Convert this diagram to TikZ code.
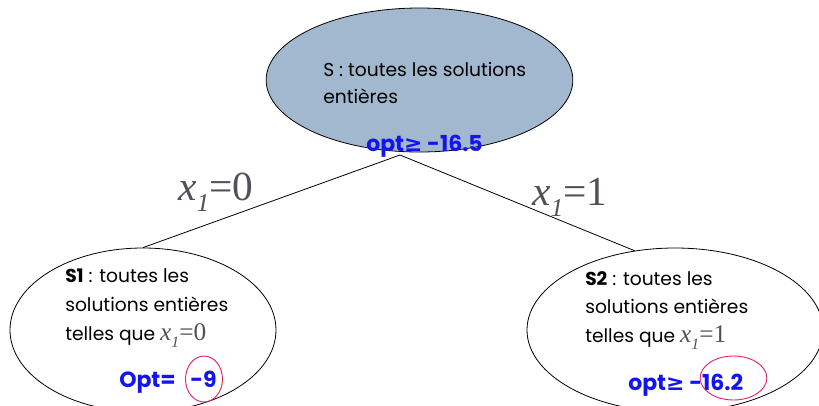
\documentclass[tikz,border=0pt]{standalone}
\usepackage{fontspec}
\setmainfont{Poppins}
\newfontfamily\symfont{DejaVu Sans}
\newfontfamily\mathserif{Liberation Serif}
\usetikzlibrary{shapes.geometric}
\definecolor{nodeblue}{RGB}{162,184,206}
\definecolor{optblue}{RGB}{20,20,240}
\definecolor{labgray}{RGB}{80,80,90}
\definecolor{circpink}{RGB}{225,40,105}
\newcommand{\xone}[1]{{\mathserif\itshape x\raisebox{-0.28em}{\scalebox{0.62}{1}}\upshape=#1}}
\begin{document}
\begin{tikzpicture}[x=0.75pt,y=-0.75pt,
  sol/.style={ellipse,draw=black,line width=0.6pt,inner sep=0pt},
  txt/.style={anchor=base west,inner sep=0pt,font=\fontsize{14}{16}\selectfont},
  opt/.style={anchor=base west,inner sep=0pt,text=optblue,font=\fontsize{16.5}{18}\selectfont\bfseries},
  branch/.style={anchor=base west,inner sep=0pt,text=labgray,font=\fontsize{31}{34}\selectfont},
  ring/.style={ellipse,draw=circpink,line width=0.7pt,inner sep=0pt},
  edge/.style={draw=black,line width=0.6pt}]
\clip (0,0) rectangle (819,405);
% nodes
\node[sol,fill=nodeblue,minimum width=230pt,minimum height=108pt] (S) at (419.5,80) {};
\node[sol,minimum width=199.5pt,minimum height=123pt] (S1) at (143,330) {};
\node[sol,minimum width=222pt,minimum height=123pt] (S2) at (675,330) {};
% connectors
\coordinate (apex) at (400,155);
\draw[edge] (apex) -- (S1.north);
\draw[edge] (apex) -- (S2.117);
% branch labels
\node[branch] (b0) at (178,200) {\xone{0}};
\node[branch] (b1) at (532,205) {\xone{1}};
% top node text
\node[txt] (t1) at (323,76) {S : toutes les solutions};
\node[txt] (t2) at (323,103) {entières};
\node[opt] (o0) at (366,151) {opt{\symfont≥} -16.5};
% left node text
\node[txt] (l1) at (65,282) {\textbf{S1} : toutes les};
\node[txt] (l2) at (65,311) {solutions entières};
\node[txt] (l3) at (65,340) {telles que {\color{labgray}\fontsize{19}{20}\selectfont\xone{0}}};
\node[opt] (o1) at (119,387) {Opt=};
\node[opt] (o1v) at (190,387) {-9};
\node[ring,minimum width=27.75pt,minimum height=34.5pt] (r1) at (204,379) {};
% right node text
\node[txt] (r1a) at (585,285) {\textbf{S2} : toutes les};
\node[txt] (r2a) at (585,313) {solutions entières};
\node[txt] (r3a) at (585,342) {telles que {\color{labgray}\fontsize{19}{20}\selectfont\xone{1}}};
\node[opt] (o2) at (628,390) {opt{\symfont≥} -16.2};
\node[ring,minimum width=50pt,minimum height=33pt] (r2) at (733.5,378) {};
\end{tikzpicture}
\end{document}
